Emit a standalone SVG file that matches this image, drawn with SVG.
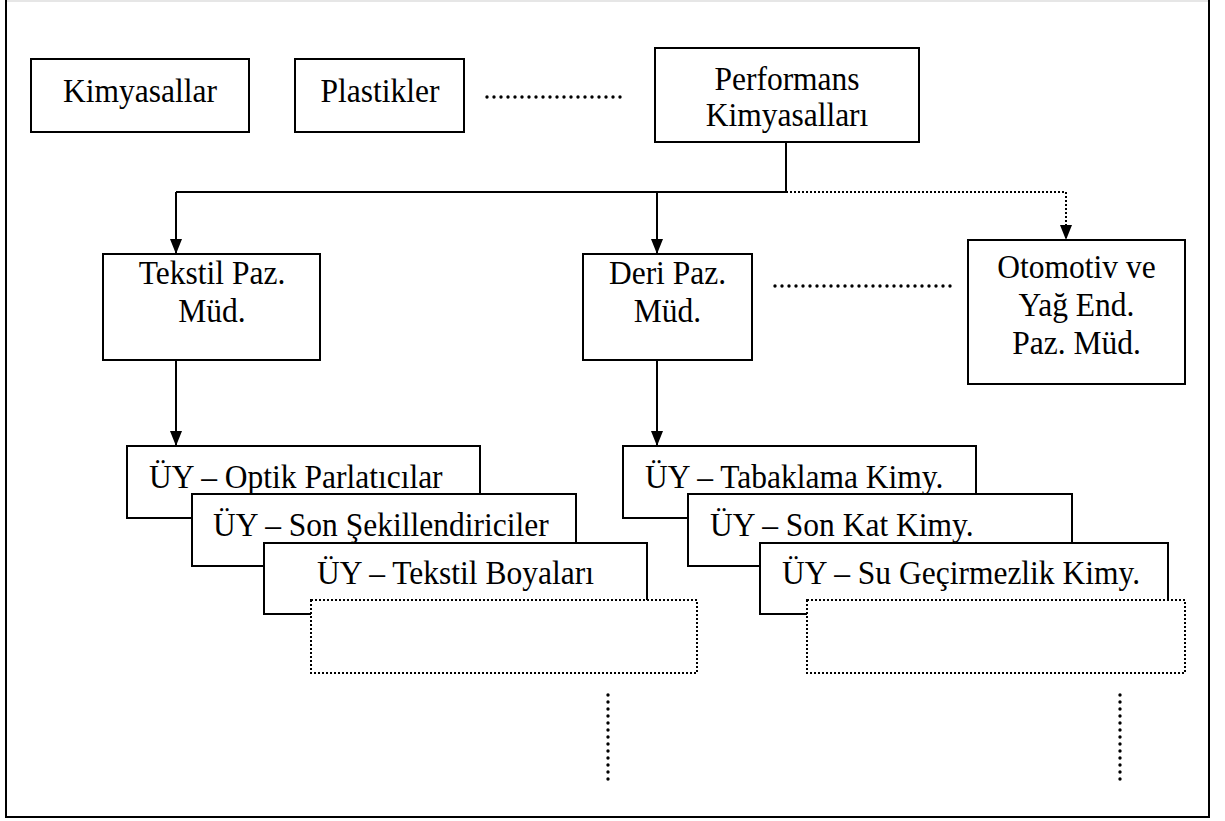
<svg xmlns="http://www.w3.org/2000/svg" width="1225" height="821" viewBox="0 0 1225 821" font-family="'Liberation Serif', 'Times New Roman', serif">
  <defs>
    <marker id="arrow" viewBox="0 0 15 12" refX="15" refY="6" markerWidth="15" markerHeight="12" markerUnits="userSpaceOnUse" orient="auto">
      <path d="M0,0 L15,6 L0,12 z" fill="#000"/>
    </marker>
    <style>
      .box { fill: #fff; stroke: #000; stroke-width: 2; }
      .dbox { fill: #fff; stroke: #000; stroke-width: 2; stroke-dasharray: 2 2; }
      text { font-family: 'Liberation Serif', 'Times New Roman', serif; font-size: 31.5px; fill: #000; }
      .c { text-anchor: middle; }
      .line { fill: none; stroke: #000; stroke-width: 2; }
      .dline { fill: none; stroke: #000; stroke-width: 2; stroke-dasharray: 2 2; }
      .dots { fill: none; stroke: #000; stroke-width: 3.4; stroke-linecap: round; stroke-dasharray: 0 7; }
    </style>
  </defs>
  <rect x="0" y="0" width="1225" height="821" fill="#fff"/>
  <g id="frame">
    <line x1="6" y1="1" x2="1209" y2="1" stroke="#e6e6e6" stroke-width="2"/>
    <path d="M6,0 L6,817 L1209,817 L1209,0" fill="none" stroke="#000" stroke-width="2"/>
  </g>

  <g id="connectors">
    <path class="line" d="M786,142 L786,192 L176,192"/>
    <path class="line" d="M176,192 L176,254" marker-end="url(#arrow)"/>
    <path class="line" d="M657,192 L657,254" marker-end="url(#arrow)"/>
    <path class="dline" d="M786,192 L1066,192 L1066,240" marker-end="url(#arrow)"/>
    <path class="line" d="M176,360 L176,446" marker-end="url(#arrow)"/>
    <path class="line" d="M657,360 L657,446" marker-end="url(#arrow)"/>
    <path class="dots" d="M487,97 L625,97"/>
    <path class="dots" d="M775,286 L953,286"/>
    <path class="dots" d="M608,695 L608,786"/>
    <path class="dots" d="M1120,695 L1120,786"/>
  </g>

  <g id="kimyasallar">
    <rect class="box" x="31" y="59" width="218" height="73"/>
    <text class="c" transform="translate(140 102) scale(1 1.1)">Kimyasallar</text>
  </g>
  <g id="plastikler">
    <rect class="box" x="295" y="59" width="169" height="73"/>
    <text class="c" transform="translate(380 102) scale(1 1.1)">Plastikler</text>
  </g>
  <g id="performans">
    <rect class="box" x="655" y="48" width="264" height="94"/>
    <text class="c" transform="translate(787 90) scale(1 1.1)">Performans</text>
    <text class="c" transform="translate(787 126) scale(1 1.1)">Kimyasalları</text>
  </g>
  <g id="tekstil">
    <rect class="box" x="103" y="254" width="217" height="106"/>
    <text class="c" transform="translate(212 284) scale(1 1.1)">Tekstil Paz.</text>
    <text class="c" transform="translate(212 322) scale(1 1.1)">Müd.</text>
  </g>
  <g id="deri">
    <rect class="box" x="583" y="254" width="169" height="106"/>
    <text class="c" transform="translate(667.5 284) scale(1 1.1)">Deri Paz.</text>
    <text class="c" transform="translate(667.5 322) scale(1 1.1)">Müd.</text>
  </g>
  <g id="otomotiv">
    <rect class="box" x="968" y="240" width="217" height="144"/>
    <text class="c" transform="translate(1076.5 278) scale(1 1.1)">Otomotiv ve</text>
    <text class="c" transform="translate(1076.5 316) scale(1 1.1)">Yağ End.</text>
    <text class="c" transform="translate(1076.5 354) scale(1 1.1)">Paz. Müd.</text>
  </g>

  <g id="uy-optik">
    <rect class="box" x="127" y="446" width="353" height="72"/>
    <text transform="translate(149 488) scale(1 1.1)">ÜY – Optik Parlatıcılar</text>
  </g>
  <g id="uy-son-sekillendiriciler">
    <rect class="box" x="192" y="494" width="384" height="72"/>
    <text transform="translate(213 536) scale(1 1.1)">ÜY – Son Şekillendiriciler</text>
  </g>
  <g id="uy-tekstil-boyalari">
    <rect class="box" x="264" y="543" width="383" height="71"/>
    <text class="c" transform="translate(455.5 584) scale(1 1.1)">ÜY – Tekstil Boyaları</text>
  </g>
  <g id="left-empty">
    <rect class="dbox" x="311" y="600" width="386" height="73"/>
  </g>

  <g id="uy-tabaklama">
    <rect class="box" x="623" y="446" width="353" height="72"/>
    <text transform="translate(645 488) scale(1 1.1)">ÜY – Tabaklama Kimy.</text>
  </g>
  <g id="uy-son-kat">
    <rect class="box" x="688" y="494" width="384" height="72"/>
    <text transform="translate(710 536) scale(1 1.1)">ÜY – Son Kat Kimy.</text>
  </g>
  <g id="uy-su">
    <rect class="box" x="760" y="543" width="408" height="71"/>
    <text transform="translate(782 584) scale(1 1.1)">ÜY – Su Geçirmezlik Kimy.</text>
  </g>
  <g id="right-empty">
    <rect class="dbox" x="807" y="600" width="378" height="73"/>
  </g>
</svg>
